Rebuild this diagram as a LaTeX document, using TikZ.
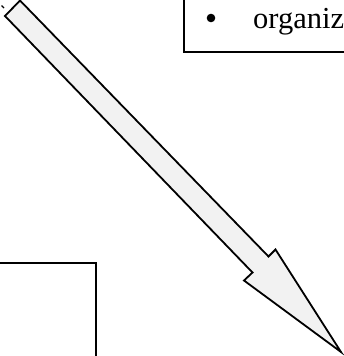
\documentclass[tikz,border=0pt]{standalone}
\usepackage{fontspec}
\setmainfont{Liberation Serif}
\usepackage{xcolor}
\usepackage{tikz}
\usetikzlibrary{calc}
\definecolor{arrowfill}{HTML}{F2F2F2}
\tikzset{
	boxline/.style={draw=black, line width=2pt},
	bigarrow/.style={draw=black, line width=1.8pt, fill=arrowfill, line join=miter}
}

\begin{document}
\begin{tikzpicture}[x=1pt,y=-1pt]
\useasboundingbox (0,0) rectangle (344,356);
\clip (0,0) rectangle (344,356);

       % box top right
       \draw[boxline] (370,-10) -- (184,-10) -- (184,52) -- (370,52);
       \node[anchor=base west, inner sep=0pt, font=\fontsize{30.5}{36}\selectfont] (item) at (253,28) {organiz};
       \fill (211,18) circle (4.3);

       % box bottom left
       \draw[boxline] (-10,263) -- (96,263) -- (96,370);

       % arrow
       \coordinate (T) at (20,0.5);
       \coordinate (L) at (5,16);
       \coordinate (R) at (268.5,256.5);
       \coordinate (S) at (252.5,272.5);
       \coordinate (HR) at (275.5,249.5);
       \coordinate (HL) at (244,280.5);
       \coordinate (tip) at (341,352);
       \draw[bigarrow] (T) -- (R) -- (HR) -- (tip) -- (HL) -- (S) -- (L) -- cycle;

       \draw[line width=1.3pt] (1.5,5.5) -- (4,8);
\end{tikzpicture}
\end{document}
